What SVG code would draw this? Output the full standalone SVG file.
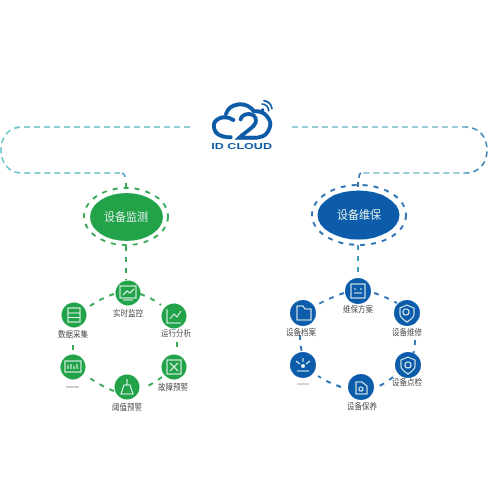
<svg xmlns="http://www.w3.org/2000/svg" width="500" height="500" viewBox="0 0 500 500">
<defs>
<filter id="soft" x="-5%" y="-5%" width="110%" height="110%"><feGaussianBlur stdDeviation="0.55"/></filter>
<linearGradient id="tg" gradientUnits="userSpaceOnUse" x1="0" y1="0" x2="490" y2="0"><stop offset="0" stop-color="#62c2c4"/><stop offset="0.93" stop-color="#7cbcc8"/><stop offset="0.97" stop-color="#3f86b8"/><stop offset="1" stop-color="#3f86b8"/></linearGradient>
<style>
.lbl{font-family:"Noto Sans CJK SC","Liberation Sans",sans-serif;font-size:7.5px;fill:#4a4a4a;text-anchor:middle}
.head{font-family:"Noto Sans CJK SC","Liberation Sans",sans-serif;font-size:11px;fill:#dfeee6;text-anchor:middle}
.g{fill:#21a24a}.b{fill:#0b5cab}
.gl{fill:none;stroke:#36a957;stroke-width:2;stroke-dasharray:5 6}
.bl{fill:none;stroke:#2f74b5;stroke-width:2;stroke-dasharray:5 6}
.tl{fill:none;stroke:url(#tg);stroke-width:1.6;stroke-dasharray:6 4}
.ic{fill:none;stroke:#e8f3ec;stroke-width:1.1}
</style>
</defs>
<rect width="500" height="500" fill="#fff"/>
<g filter="url(#soft)">
<g id="connectors">
<path class="tl" d="M190 127H22C8 127 1 138 1 150C1 162 8 173 22 173H122"/>
<path class="tl" d="M292 127H465C480 127 487 138 487 150C487 162 480 173 465 173H361"/>
<path d="M122 173Q125 174 125 177" fill="none" stroke="#4fa9cf" stroke-width="1.6"/>
<path d="M361 173Q359 174 359 178" fill="none" stroke="#2f74b5" stroke-width="1.6"/>
<path class="gl" d="M126 183V189"/>
<path class="bl" d="M358 182V188"/>
<path class="gl" d="M126 246V280"/>
<path class="bl" d="M358 245V278" style="stroke:#3d9cc4"/>
<path class="gl" d="M114 294Q100 299 87 308M140 294Q152 298 161 305M177 342V352M162 377Q153 384 143 388M114 391Q101 386 90 378M73 345V351"/>
<path class="bl" d="M344 293Q329 298 315 306M374 293Q386 297 397 303M415 340Q415 348 413 355M393 377Q386 383 377 387M341 387Q329 383 318 376M300 335Q300 344 302 353"/>
</g>
<g id="logo" transform="translate(190 90) scale(.3333)">
<g fill="none" stroke="#0c5aa6" stroke-width="12" stroke-linecap="round">
<path d="M130 90C100 72 68 88 72 112C75 135 95 142 122 142"/>
<path d="M108 72C118 40 165 30 192 64C225 60 245 90 240 110C234 132 222 140 206 142"/>
<path d="M152 88C158 66 198 66 198 92C198 110 170 122 148 143H200"/>
<path d="M216 42A20 20 0 0 1 236 62M222 32A30 30 0 0 1 246 56" stroke-width="5"/>
</g>
<circle cx="218" cy="60" r="5" fill="#0c5aa6"/>
<text x="155" y="178" font-family="Liberation Sans,sans-serif" font-size="25" font-weight="700" fill="#0c5aa6" text-anchor="middle" textLength="182" lengthAdjust="spacingAndGlyphs">ID CLOUD</text>
</g>
<g id="monitor"><ellipse cx="126.500" cy="217" rx="36.500" ry="24" class="g"/><ellipse cx="126" cy="216.500" rx="42" ry="28.500" class="gl"/><text x="126" y="220.500" class="head">设备监测</text></g>
<g id="maintain"><ellipse cx="358.500" cy="215" rx="41" ry="24.500" class="b"/><ellipse cx="359" cy="215" rx="47" ry="30" class="bl"/><text x="359" y="219" class="head" font-size="11.500">设备维保</text></g>
<g id="g1"><circle cx="128" cy="293" r="12.500" class="g"/><rect x="120" y="286" width="16" height="12" class="ic"/><path class="ic" d="M123 295L127 291L130 293L134 289M123 300H133"/><text x="128" y="316" class="lbl">实时监控</text></g>
<g id="g2"><circle cx="174" cy="316" r="12.500" class="g"/><path class="ic" d="M167 309V323H181M170 319L174 314L177 317L181 311"/><text x="176" y="336" class="lbl">运行分析</text></g>
<g id="g3"><circle cx="174" cy="367" r="12.500" class="g"/><rect x="167" y="360" width="14" height="14" class="ic"/><path class="ic" d="M170 363L178 371M178 363L170 371"/><text x="173" y="390" class="lbl">故障预警</text></g>
<g id="g4"><circle cx="127" cy="387" r="12.500" class="g"/><path class="ic" d="M127 379V385M124 385H130L133 394H121Z"/><text x="127" y="410" class="lbl">阈值预警</text></g>
<g id="g5"><circle cx="73" cy="367" r="12.500" class="g"/><rect x="65" y="361" width="16" height="11" class="ic"/><path class="ic" d="M68 369V365M71 369V364M74 369V366M77 369V364"/><path d="M66 387H79" stroke="#999" stroke-width="1"/></g>
<g id="g6"><circle cx="74" cy="315" r="12.500" class="g"/><rect x="68" y="308" width="12" height="14" class="ic"/><path class="ic" d="M68 313H80M68 317.500H80"/><text x="73" y="337" class="lbl">数据采集</text></g>
<g id="b1"><circle cx="358" cy="291" r="13" class="b"/><rect x="351" y="284" width="14" height="14" class="ic"/><path class="ic" d="M354 289H356M360 289H362M354 293H362"/><text x="358" y="312" class="lbl">维保方案</text></g>
<g id="b2"><circle cx="407" cy="313" r="13" class="b"/><path class="ic" d="M400 308L407 305L414 308V314C414 318 410 320 407 322C404 320 400 318 400 314Z"/><circle cx="406" cy="312" r="3" class="ic"/><text x="407" y="335" class="lbl">设备维修</text></g>
<g id="b3"><circle cx="408" cy="365" r="13" class="b"/><path class="ic" d="M401 360L408 357L415 360V366C415 370 411 372 408 374C405 372 401 370 401 366Z"/><circle cx="408" cy="365" r="3" class="ic"/><text x="407" y="385" class="lbl">设备点检</text></g>
<g id="b4"><circle cx="361" cy="387" r="13" class="b"/><path class="ic" d="M356 382H362L367 386V394H356Z"/><circle cx="361" cy="389" r="2" class="ic"/><text x="362" y="409" class="lbl">设备保养</text></g>
<g id="b5"><circle cx="303" cy="365" r="13" class="b"/><path class="ic" d="M303 358V362M296 361L300 364M310 361L306 364M297 371H309"/><circle cx="303" cy="366" r="2" fill="#e8f3ec"/><path d="M297 384H309" stroke="#aaa" stroke-width="1"/></g>
<g id="b6"><circle cx="303" cy="313" r="13" class="b"/><path class="ic" d="M297 306H303L305 309H311V320H297Z"/><text x="301" y="335" class="lbl">设备档案</text></g>
</g>
</svg>
